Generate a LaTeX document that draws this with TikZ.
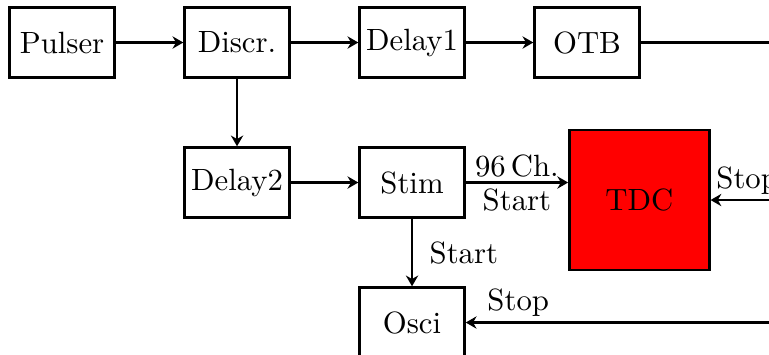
\documentclass[tikz,border=0pt]{standalone}
\usepackage{tikz}
\usetikzlibrary{arrows.meta,positioning}

\begin{document}
\begin{tikzpicture}[
    caja/.style={draw, thick, align=center, inner sep=1pt,
                 minimum width=1.2cm, minimum height=0.8cm},
    grande/.style={draw, thick, fill=red, minimum size=1.6cm},
    flecha/.style={-{Stealth[length=3.5pt, width=4pt]}, thick},
    etiq/.style={inner sep=1.5pt},
    node distance=7.72mm
  ]
    \useasboundingbox (-0.709,-3.571) rectangle (8.08,0.486);
    \clip (-0.709,-3.571) rectangle (8.08,0.486);
    \node[caja] (pul) at (0,0) {Pulser};
    \node[caja, right=of pul]  (dis)  {Discr.};
    \node[caja, right=of dis]  (del1) {Delay1};
    \node[caja, right=of del1] (otb)  {OTB};
    \node[caja, below=of dis]  (del2) {Delay2};
    \node[caja, right=of del2] (stim) {Stim};
    \node[caja, below=of stim] (osci) {Osci};
    \node[grande, right=1.17cm of stim, yshift=-0.2cm] (tdc) {TDC};
    \coordinate[right=2cm of otb.east]   (o2);
    \coordinate[right=2cm of tdc.east]   (t1);
    \coordinate[right=4.8cm of osci.east] (o1);
    \draw[flecha] (pul) -- (dis);
    \draw[flecha] (dis) -- (del1);
    \draw[flecha] (del1) -- (otb);
    \draw[flecha] (otb) -- (o2);
    \draw[flecha] (dis) -- (del2);
    \draw[flecha] (del2) -- (stim);
    \draw[flecha] (stim) -- node[etiq, above] {96\,Ch.} node[etiq, below] {Start} (stim -| tdc.west);
    \draw[flecha] (stim) -- node[right=2pt] {Start} (osci);
    \draw[flecha] (t1) -- node[etiq, pos=1, above right] {Stop} (tdc);
    \draw[flecha] (o1) -- node[etiq, very near end, above] {Stop} (osci);
  \end{tikzpicture}
\end{document}
